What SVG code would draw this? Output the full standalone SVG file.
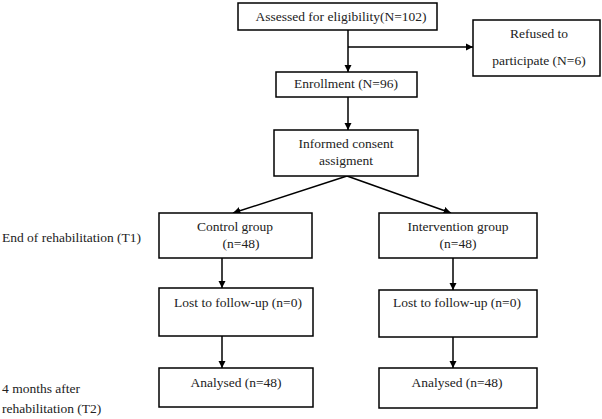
<svg xmlns="http://www.w3.org/2000/svg" width="602" height="419" viewBox="0 0 602 419">
<style>
.box{fill:#fff;stroke:#000;stroke-width:1.5}
text{font-family:'Liberation Serif','Times New Roman',serif;font-size:13.5px;fill:#222}
.t{text-anchor:middle}
.c{stroke:#000;stroke-width:1.5;fill:none}
</style>
<defs>
<marker id="ah" viewBox="0 0 10 10" refX="10" refY="5" markerWidth="5" markerHeight="5" orient="auto" markerUnits="strokeWidth">
<path d="M0,0 L10,5 L0,10 z" fill="#000"/>
</marker>
</defs>
<rect width="602" height="419" fill="#fff"/>
<g id="connectors">
<line class="c" x1="348" y1="30" x2="348" y2="72" marker-end="url(#ah)"/>
<line class="c" x1="348" y1="47" x2="473" y2="47" marker-end="url(#ah)"/>
<line class="c" x1="348" y1="97" x2="348" y2="130" marker-end="url(#ah)"/>
<line class="c" x1="347" y1="176" x2="233" y2="213" marker-end="url(#ah)"/>
<line class="c" x1="347" y1="176" x2="451" y2="213" marker-end="url(#ah)"/>
<line class="c" x1="222" y1="258" x2="222" y2="288" marker-end="url(#ah)"/>
<line class="c" x1="453" y1="258" x2="453" y2="290" marker-end="url(#ah)"/>
<line class="c" x1="222" y1="336" x2="222" y2="368" marker-end="url(#ah)"/>
<line class="c" x1="453" y1="337" x2="453" y2="368" marker-end="url(#ah)"/>
</g>
<g id="assessed"><rect class="box" x="238" y="3" width="199" height="27"/><text class="t" x="341" y="21">Assessed for eligibility(N=102)</text></g>
<g id="refused"><rect class="box" x="473" y="20" width="127" height="56"/><text class="t" x="539" y="38">Refused to</text><text class="t" x="539" y="65">participate (N=6)</text></g>
<g id="enrollment"><rect class="box" x="276" y="72" width="141" height="25"/><text class="t" x="346" y="88">Enrollment (N=96)</text></g>
<g id="informed"><rect class="box" x="274" y="130" width="144" height="46"/><text class="t" x="346" y="148">Informed consent</text><text class="t" x="346" y="165">assigment</text></g>
<g id="control"><rect class="box" x="159" y="213" width="153" height="45"/><text class="t" x="235" y="231">Control group</text><text class="t" x="241" y="248">(n=48)</text></g>
<g id="intervention"><rect class="box" x="379" y="213" width="158" height="45"/><text class="t" x="458" y="231">Intervention group</text><text class="t" x="458" y="248">(n=48)</text></g>
<g id="lost-control"><rect class="box" x="159" y="288" width="154" height="48"/><text class="t" x="238" y="307">Lost to follow-up (n=0)</text></g>
<g id="lost-intervention"><rect class="box" x="379" y="290" width="158" height="47"/><text class="t" x="457" y="307">Lost to follow-up (n=0)</text></g>
<g id="analysed-control"><rect class="box" x="159" y="368" width="154" height="39"/><text class="t" x="236" y="387">Analysed (n=48)</text></g>
<g id="analysed-intervention"><rect class="box" x="379" y="368" width="158" height="40"/><text class="t" x="457" y="387">Analysed (n=48)</text></g>
<g id="label-t1"><text x="2" y="242">End of rehabilitation (T1)</text></g>
<g id="label-t2"><text x="2" y="393">4 months after</text><text x="2" y="413">rehabilitation (T2)</text></g>
</svg>
